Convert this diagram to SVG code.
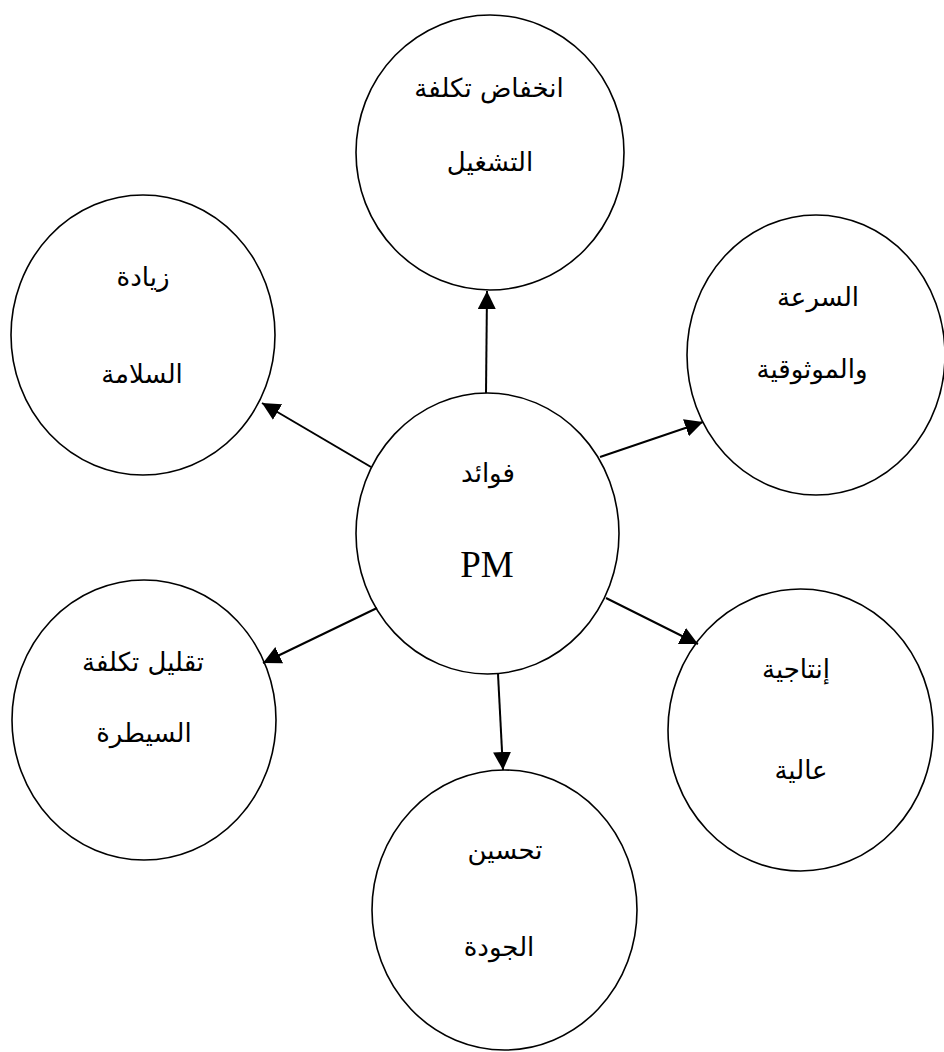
<svg xmlns="http://www.w3.org/2000/svg" width="944" height="1052" viewBox="0 0 944 1052">
  <style>
    .node ellipse { fill: #ffffff; stroke: #000000; stroke-width: 1.6; }
    .ar { font-family: "DejaVu Sans", "Noto Sans", sans-serif; font-size: 26px; fill: #000000; text-anchor: middle; direction: rtl; }
    .lat { font-family: "Liberation Serif", "DejaVu Serif", serif; font-size: 37px; fill: #000000; text-anchor: middle; }
    .link { stroke: #000000; stroke-width: 2; fill: none; marker-end: url(#head); }
  </style>
  <defs>
    <marker id="head" markerUnits="userSpaceOnUse" markerWidth="18" markerHeight="18" viewBox="0 0 16 16" refX="16" refY="8" orient="auto">
      <path d="M0,0 L16,8 L0,16 Z" fill="#000000"/>
    </marker>
  </defs>
  <rect width="944" height="1052" fill="#ffffff"/>

  <!-- outer benefit nodes -->
  <g id="node-operating-cost" class="node">
    <ellipse cx="490" cy="152.5" rx="134" ry="137.5"/>
    <text class="ar" x="489" y="97">انخفاض تكلفة</text>
    <text class="ar" x="490" y="171">التشغيل</text>
  </g>
  <g id="node-safety" class="node">
    <ellipse cx="143" cy="335" rx="132" ry="140"/>
    <text class="ar" x="143" y="286">زيادة</text>
    <text class="ar" x="142" y="383">السلامة</text>
  </g>
  <g id="node-speed" class="node">
    <ellipse cx="816" cy="355" rx="129" ry="140"/>
    <text class="ar" x="818" y="306">السرعة</text>
    <text class="ar" x="812" y="378">والموثوقية</text>
  </g>
  <g id="node-control-cost" class="node">
    <ellipse cx="144" cy="720" rx="132" ry="140"/>
    <text class="ar" x="143" y="671">تقليل تكلفة</text>
    <text class="ar" x="144" y="742">السيطرة</text>
  </g>
  <g id="node-productivity" class="node">
    <ellipse cx="800.5" cy="730" rx="132.5" ry="141"/>
    <text class="ar" x="796" y="678">إنتاجية</text>
    <text class="ar" x="801" y="779">عالية</text>
  </g>
  <g id="node-quality" class="node">
    <ellipse cx="504.5" cy="910" rx="132.5" ry="140"/>
    <text class="ar" x="505" y="859">تحسين</text>
    <text class="ar" x="499" y="956">الجودة</text>
  </g>

  <!-- central node -->
  <g id="node-pm" class="node">
    <ellipse cx="487.5" cy="533.5" rx="131.5" ry="140.5"/>
    <text class="ar" x="488" y="482">فوائد</text>
    <text class="lat" x="487" y="577">PM</text>
  </g>

  <!-- connectors -->
  <g id="connectors">
    <line class="link" x1="486" y1="393" x2="487" y2="291"/>
    <line class="link" x1="371" y1="467" x2="262" y2="403"/>
    <line class="link" x1="600" y1="457" x2="703" y2="422"/>
    <line class="link" x1="377" y1="608" x2="263" y2="663"/>
    <line class="link" x1="606" y1="598" x2="698" y2="644"/>
    <line class="link" x1="498" y1="674" x2="503" y2="770"/>
  </g>
</svg>
